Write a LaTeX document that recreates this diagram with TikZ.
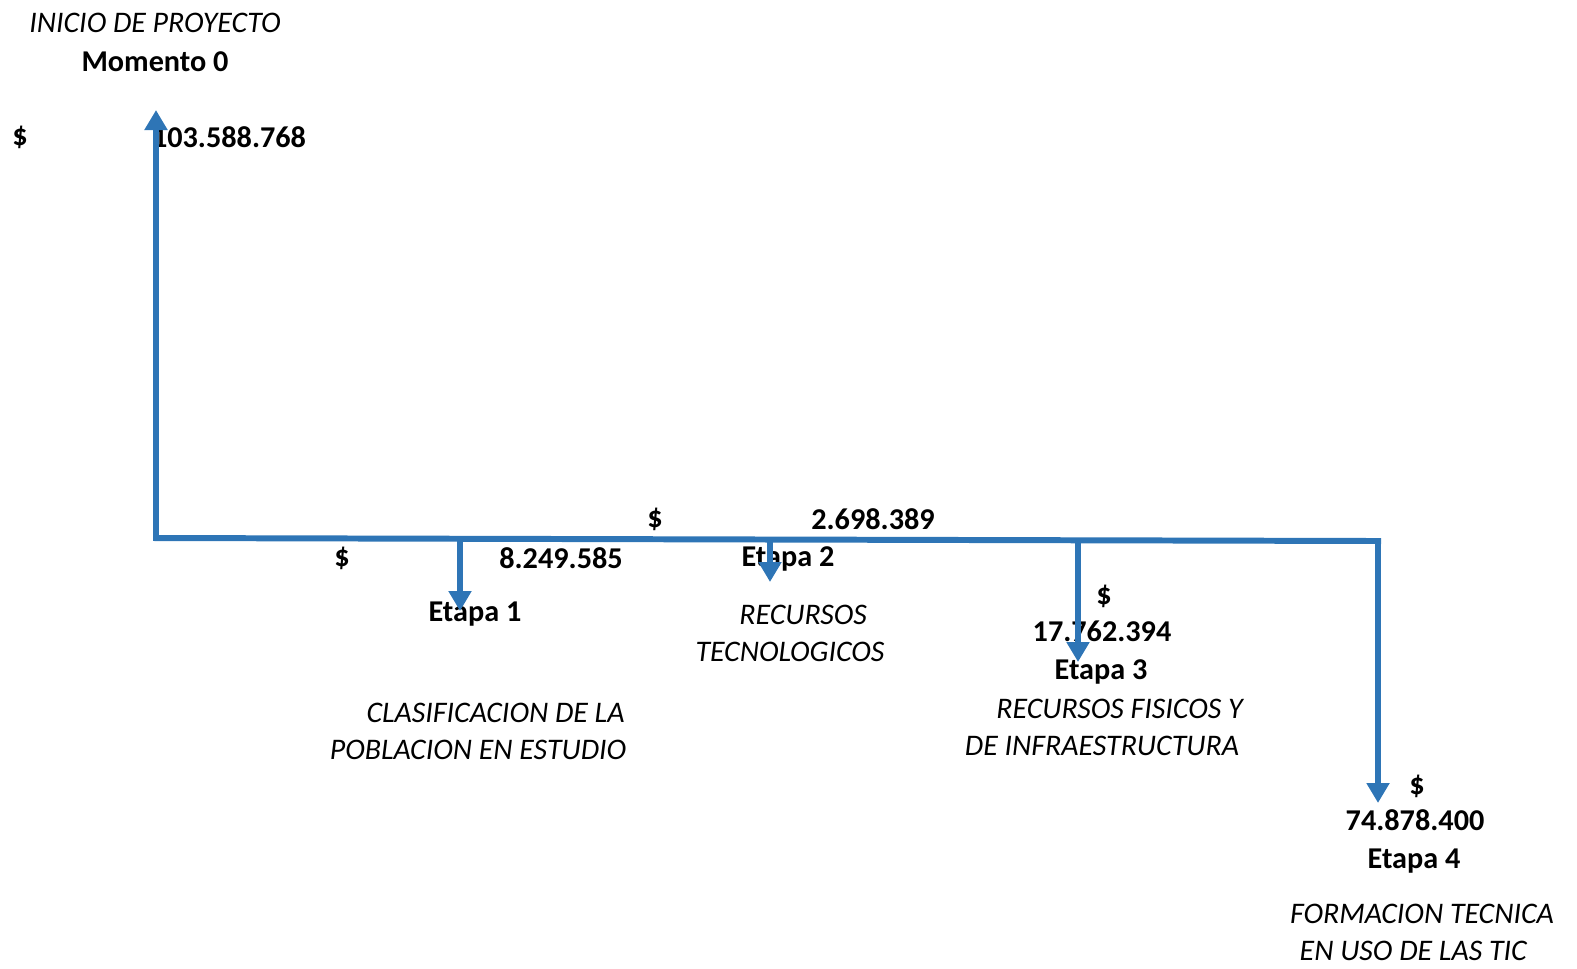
\documentclass[tikz,border=0pt]{standalone}
\usepackage{fontspec}
\setmainfont{Carlito}
\usetikzlibrary{arrows.meta,positioning}
\definecolor{flowc}{HTML}{2E75B6}
\tikzset{
  cash/.style  ={font=\fontsize{17.2}{21}\selectfont\bfseries,inner sep=0pt},
  stage/.style ={font=\fontsize{17}{21}\selectfont\itshape,align=center,inner sep=0pt},
  axis/.style  ={line width=3.4pt,flowc,line cap=rect},
  flow/.style  ={line width=3.4pt,flowc,-{Triangle[width=4.4mm,length=4mm]}},
}
\begin{document}
\begin{tikzpicture}[x=0.02cm,y=-0.02cm]
    \useasboundingbox (0,0) rectangle (1577,968);

    % momento 0
    \node[stage] (inicio) at (155,23)  {INICIO DE PROYECTO};
    \node[cash]  (mom0)   at (155,62)  {Momento 0};
    \node[cash]  (d0)     at (20,137)  {\$};
    \node[cash]  (v0)     at (229,137) {103.588.768};

    % etapa 1
    \node[cash]  (d1)   at (342,558) {\$};
    \node[cash]  (v1)   at (561,558) {8.249.585};
    \node[cash]  (et1)  at (475,614) {Etapa 1};
    \node[stage] (txt1) at (478,731) {\hspace*{20pt}CLASIFICACION DE LA\\POBLACION EN ESTUDIO};

    % etapa 2
    \node[cash]  (d2)   at (655,519) {\$};
    \node[cash]  (v2)   at (873,519) {2.698.389};
    \node[cash]  (et2)  at (788,559) {Etapa 2};
    \node[stage] (txt2) at (790,633) {\hspace*{15pt}RECURSOS\\TECNOLOGICOS};

    % etapa 3
    \node[cash]  (d3)   at (1104,596) {\$};
    \node[cash]  (v3)   at (1102,631) {17.762.394};
    \node[cash]  (et3)  at (1101,672) {Etapa 3};
    \node[stage] (txt3) at (1102,727) {\hspace*{20pt}RECURSOS FISICOS Y\\DE INFRAESTRUCTURA};

    % etapa 4
    \node[cash]  (d4)   at (1417,786) {\$};
    \node[cash]  (v4)   at (1415,820) {74.878.400};
    \node[cash]  (et4)  at (1414,861) {Etapa 4};
    \node[stage] (txt4) at (1422,932) {FORMACION TECNICA\\EN USO DE LAS TIC\hspace*{10pt}};

    % time line
    \coordinate (m0) at (156,538);
    \coordinate (e1) at (460,539);
    \coordinate (e2) at (770,540);
    \coordinate (e3) at (1078,541);
    \coordinate (e4) at (1378,541);
    \coordinate (u0) at (156,110);
    \coordinate (t1) at (460,611);
    \coordinate (t2) at (770,582);
    \coordinate (t3) at (1078,662);
    \coordinate (t4) at (1378,803);

    \draw[axis] (m0) -- (e4);
    \draw[flow] (m0) -- (u0);
    \foreach \s/\t in {e1/t1,e2/t2,e3/t3,e4/t4} \draw[flow] (\s) -- (\t);
\end{tikzpicture}
\end{document}
